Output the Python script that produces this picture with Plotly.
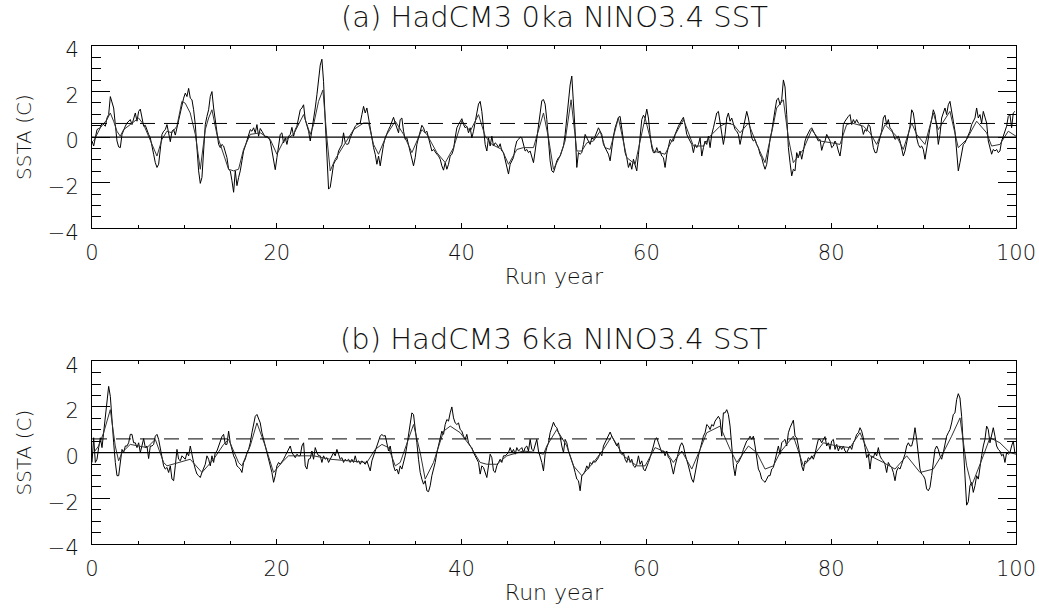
import numpy as np
import plotly.graph_objects as go

# ---------------- data ----------------
# raw NINO3.4 SSTA, sampled every ~0.18 year along the run (values in C)
SAMPLE_STEP_YR = 0.1803

sst_0ka_raw = [
    -0.17,-0.39,-0.03,0.33,0.38,0.41,0.62,0.55,0.48,0.84,
    0.99,1.78,1.55,1.28,0.55,-0.17,-0.43,-0.46,0.12,0.33,
    0.48,0.62,0.70,0.77,0.55,0.84,1.06,0.70,1.13,1.23,
    0.84,0.48,0.52,0.26,0.12,-0.03,-0.46,-0.75,-1.12,-1.33,
    -1.19,-0.61,0.12,0.26,0.33,0.55,0.12,-0.20,0.26,0.33,
    0.09,0.41,0.84,1.13,1.42,1.71,1.93,1.78,2.14,1.71,
    1.64,1.20,0.55,-0.61,-1.48,-2.03,-1.77,-0.61,0.55,0.91,
    1.20,1.78,2.00,1.28,0.77,0.12,-0.32,-0.46,-0.32,-0.39,
    -0.68,-0.90,-1.41,-1.48,-1.91,-2.42,-1.48,-2.13,-1.77,-1.48,
    -1.04,-0.61,-0.39,-0.17,0.12,0.33,0.26,0.41,0.19,0.55,
    0.04,0.38,0.26,0.12,0.00,0.04,-0.03,-0.17,-0.61,-0.90,
    -1.43,-0.90,-0.46,0.12,0.19,-0.25,-0.03,-0.32,0.04,0.12,
    0.43,0.04,0.33,0.48,0.84,1.20,1.28,1.42,0.77,0.55,
    0.26,
    -0.17,0.26,0.70,1.28,1.86,2.58,3.16,3.42,2.43,
    0.70,-1.04,-2.28,-2.20,-1.55,-1.19,-1.04,-0.97,-0.61,-0.46,
    -0.32,0.19,-0.25,-0.32,-0.29,-0.03,0.12,0.33,0.48,0.55,
    0.58,0.62,0.99,1.35,1.06,1.28,0.84,0.48,-0.03,-0.46,
    -0.75,-1.19,-0.83,-1.26,-0.68,-0.32,-0.03,0.19,0.33,0.48,
    0.70,0.87,0.62,0.41,0.19,0.77,0.84,0.26,-0.10,-0.03,
    -0.32,-0.61,-0.90,-1.26,-0.90,-0.32,-0.03,0.26,0.52,0.41,
    0.19,0.26,-0.03,-0.32,-0.61,-0.54,-0.68,-0.75,-0.83,-0.97,
    -1.26,-1.45,-1.12,-1.41,-1.19,-0.83,-0.75,-0.54,-0.03,0.41,
    0.55,0.70,0.81,0.55,0.41,0.48,0.19,0.41,-0.03,0.26,
    0.77,1.06,1.45,1.57,1.13,0.41,-0.32,-0.61,-0.03,-0.39,
    0.04,-0.39,-0.25,-0.32,-0.46,-0.29,-0.61,-0.68,-0.97,-1.26,
    -1.62,-1.19,-1.04,-0.90,-0.46,-0.17,-0.10,0.00,-0.03,-0.39,
    -0.61,-0.54,-0.68,-0.61,-0.90,-1.12,-0.61,-0.03,0.55,
    1.28,1.60,1.65,1.45,0.77,-0.17,-1.04,-1.48,-1.55,-1.33,-1.04,
    -0.90,-0.83,-0.61,-0.39,0.12,0.84,1.42,2.29,2.68,1.64,
    0.26,-1.33,-0.68,-0.75,-0.68,-0.32,0.12,-0.03,-0.17,-0.32,
    -0.03,-0.10,0.04,0.19,0.41,0.26,0.12,-0.32,-0.46,-0.61,
    -0.75,-1.04,-0.46,0.04,0.41,0.70,0.87,0.91,0.41,-0.03,
    -0.68,-0.90,-1.33,-1.12,-1.41,-0.97,-1.26,-1.48,-0.75,0.12,
    0.77,0.96,0.84,1.23,0.84,0.12,-0.46,-0.68,-0.68,-0.46,
    -0.68,-0.61,-0.83,-0.90,-1.33,-0.75,-0.46,-0.10,-0.17,-0.17,
    0.12,0.33,0.48,0.62,0.77,0.87,0.55,0.12,-0.03,-0.17,
    -0.32,-0.68,-0.32,-0.46,-0.32,-0.03,-0.83,-0.46,-0.17,-0.32,
    0.04,-0.46,0.12,0.41,0.70,1.06,1.13,0.70,0.12,-0.32,
    0.12,0.84,1.06,0.70,0.84,0.55,0.33,0.26,0.12,-0.32,
    0.04,0.41,0.77,1.13,0.84,0.41,-0.03,-0.17,-0.10,-0.32,
    -0.46,-0.75,-0.90,-1.19,-1.41,-1.19,-0.61,
    -0.10,0.26,0.84,
    1.20,1.64,1.71,1.42,1.64,2.51,2.20,0.99,-0.46,-1.12,
    -1.70,-1.41,-1.48,-0.68,-0.90,-0.61,-0.97,-0.61,-0.17,0.04,
    0.19,0.33,0.41,0.26,0.12,-0.03,-0.17,-0.10,-0.58,-0.32,
    -0.17,0.12,-0.03,-0.17,-0.46,-0.39,-0.17,-0.32,-0.61,-0.83,
    -0.32,0.55,0.70,0.84,0.91,0.99,0.55,0.77,0.62,0.77,
    0.62,0.55,0.48,0.12,0.33,0.26,0.55,0.48,0.04,-0.46,
    -0.68,-0.68,-0.32,-0.03,0.26,0.84,0.96,0.55,0.77,0.41,
    0.33,0.12,-0.10,-0.03,0.04,-0.17,-0.46,-0.83,-0.61,-0.25,
    0.12,0.48,1.20,1.06,0.55,-0.03,-0.32,-0.46,-0.39,-0.54,
    -0.97,-0.46,0.04,0.41,0.77,1.20,0.99,0.48,-0.32,0.12,
    0.84,1.06,1.28,0.99,1.42,1.57,1.20,0.70,0.26,-0.61,
    -1.48,-1.12,-0.61,-0.32,-0.25,-0.10,0.04,0.26,0.55,0.70,
    0.84,1.28,0.84,0.99,0.62,1.13,0.84,0.62,-0.17,-0.46,
    -0.75,-0.54,-0.61,-0.54,-0.68,-0.61,-0.17,0.04,0.26,0.48,
    0.91,0.99,0.41,1.06,1.13,
]

sst_6ka_raw = [
    -0.43,0.65,-0.43,-0.29,0.22,0.65,0.22,0.87,1.45,2.32,
    2.90,2.46,1.16,0.43,-0.43,-1.01,-1.01,-0.29,0.14,0.00,
    0.29,0.29,0.43,0.80,0.80,0.43,0.43,0.22,0.43,0.00,
    0.29,0.61,0.22,0.29,-0.26,0.29,0.29,0.36,0.72,0.80,
    0.58,0.14,-0.14,-0.58,-0.72,-0.65,-0.87,-0.58,-1.16,-1.23,
    -0.58,0.14,-0.29,-0.36,-0.14,-0.22,-0.29,0.00,-0.14,0.29,
    -0.14,-0.43,-0.72,-0.94,-1.01,-1.09,-0.87,-0.65,-0.51,-0.14,
    -0.29,-0.58,-0.14,-0.43,0.00,0.07,0.29,0.43,0.70,0.80,
    0.36,0.36,0.94,0.43,0.14,-0.14,-0.29,-0.58,-0.65,-0.72,
    -0.87,-0.43,-0.29,0.00,0.14,0.43,0.87,1.23,1.59,1.67,
    1.52,1.30,0.87,0.58,0.29,0.00,-0.29,-0.58,-0.87,-1.30,
    -1.01,-0.58,-0.43,-0.51,-0.41,-0.29,-0.14,0.00,0.14,0.29,
    0.00,-0.14,-0.22,-0.07,-0.14,-0.14,0.29,0.43,-0.58,-0.72,
    -0.29,
    -0.26,0.07,-0.29,0.22,0.00,-0.14,-0.14,-0.43,-0.14,
    -0.29,-0.22,-0.43,-0.29,-0.14,0.00,-0.14,0.14,-0.07,-0.29,
    -0.22,-0.43,-0.29,-0.36,-0.29,-0.43,-0.29,-0.43,-0.14,-0.43,
    -0.36,-0.51,-0.36,-0.43,-0.51,-0.36,-0.58,-0.80,-0.36,-0.14,
    0.07,0.29,0.43,0.72,0.80,0.72,0.75,0.43,0.07,0.29,
    -0.22,-0.58,-0.80,-0.72,-0.94,-0.58,-0.72,-0.43,-0.14,0.29,
    0.72,1.30,1.74,1.67,1.16,0.43,-0.29,-0.87,-1.16,-1.38,
    -1.23,-1.67,-1.71,-1.45,-1.01,-0.72,-0.43,0.00,0.29,0.58,
    0.94,0.80,1.23,1.45,1.38,1.74,2.00,1.52,1.30,1.23,
    1.30,1.01,0.94,0.72,0.58,0.80,0.43,0.29,0.22,0.00,
    -0.14,-0.29,-0.43,-0.94,-0.58,-0.65,-0.87,-1.09,-0.58,-0.07,
    -0.22,-0.80,-0.87,-0.58,-0.43,-0.29,-0.43,-0.14,-0.14,-0.07,
    0.00,0.22,0.00,0.14,-0.07,0.22,0.07,0.14,0.22,0.00,
    0.22,0.29,0.07,0.58,0.14,0.07,0.29,0.58,0.07,
    -0.14,-0.43,-0.80,-0.07,0.22,0.43,0.87,1.09,1.33,1.16,1.09,
    0.87,0.72,0.29,0.00,0.58,0.43,0.07,-0.14,-0.29,-0.58,
    -0.87,-1.16,-1.23,-1.67,-1.01,-0.94,-0.80,-0.58,-0.72,-0.43,
    -0.51,-0.36,-0.43,-0.29,-0.22,0.00,-0.14,0.29,0.43,0.58,
    0.72,0.90,0.72,0.58,0.43,0.29,0.43,0.00,-0.07,0.00,
    -0.29,-0.43,-0.14,-0.43,-0.29,-0.58,-0.65,-0.51,-0.14,-0.51,
    -0.36,-0.72,-0.80,-0.65,-0.43,-0.22,0.00,0.29,0.58,0.65,
    0.43,0.22,0.00,0.07,-0.14,0.07,-0.22,-0.29,-0.58,-0.94,
    -0.58,-0.29,0.00,0.29,0.43,0.29,-0.07,-0.29,-0.58,-0.87,
    -1.16,-1.30,-0.87,-0.43,-0.14,0.14,0.43,0.72,0.87,1.23,
    1.16,1.01,1.23,1.16,1.38,1.52,1.59,1.45,0.72,1.74,
    1.74,1.88,1.67,1.16,0.29,-0.58,-1.01,-0.51,-0.43,-0.29,
    -0.14,0.14,0.29,0.51,0.58,0.72,0.58,0.72,0.29,-0.14,
    -0.72,-0.87,-1.16,-1.23,-1.30,-1.16,-1.01,
    -1.01,-0.72,-0.65,
    -0.29,-0.07,0.29,-0.07,0.43,0.51,0.58,0.29,0.87,1.09,
    1.30,1.42,0.72,0.65,0.29,-0.14,-0.58,-0.80,-0.36,-0.43,
    -0.22,-0.29,-0.14,-0.29,-0.07,0.29,0.58,0.58,0.43,0.58,
    0.70,0.29,0.43,0.14,0.51,0.58,0.14,0.36,0.07,0.29,
    0.14,0.29,0.07,0.00,0.14,0.29,0.14,0.43,0.58,0.80,
    0.87,1.09,0.94,0.65,0.22,-0.22,-0.07,-0.72,-0.14,-0.22,
    0.00,-0.14,0.22,-0.14,-0.29,-0.36,-0.51,-0.87,-0.43,-0.58,
    -0.65,-0.87,-1.23,-0.80,-0.65,-0.72,-0.51,-0.29,-0.07,0.29,
    0.43,0.29,0.29,0.58,1.09,0.58,0.00,-0.72,-0.94,-1.01,
    -1.16,-1.59,-1.67,-1.52,-1.01,-0.43,0.14,0.29,0.14,-0.14,
    -0.29,0.00,0.43,0.72,0.87,1.01,1.30,1.67,1.74,2.32,
    2.58,2.39,1.59,0.14,-1.16,-2.30,-2.15,-1.45,-1.30,-1.74,
    -1.45,-1.01,-1.16,-0.58,-0.14,0.29,0.58,1.16,1.01,0.43,
    0.72,1.09,0.72,0.29,0.14,0.07,-0.14,-0.07,-0.43,0.00,
    -0.07,0.00,0.29,0.51,-0.03,
]

# smoothed series (year, value) read at its turning points
smooth_0ka_year = [0.18,0.90,1.62,1.98,2.34,2.70,3.06,3.42,4.14,5.04,5.59,6.31,7.03,7.57,8.11,8.65,9.19,9.73,
    10.09,10.63,11.18,11.72,12.26,12.62,12.98,13.52,14.06,14.78,15.32,15.86,16.40,17.12,18.21,19.29,20.01,
    20.73,21.81,22.53,22.90,23.62,23.98,24.52,24.99,25.42,25.78,26.32,27.23,28.31,29.39,29.93,30.47,31.01,
    31.91,32.82,33.72,34.62,35.70,36.24,37.32,38.23,39.13,40.03,40.93,41.83,42.55,43.27,44.36,45.08,45.98,
    46.70,47.78,48.86,49.40,49.94,50.66,51.20,51.85,52.47,53.01,53.55,54.27,54.99,55.53,56.07,56.97,57.88,
    58.78,59.86,60.76,62.02,62.74,64.01,65.09,66.17,66.89,67.97,68.69,69.42,70.14,71.04,71.94,72.84,73.74,
    74.10,74.82,75.36,75.90,76.99,77.89,78.79,80.05,80.95,81.67,82.22,83.48,84.20,84.92,85.82,87.08,87.80,
    88.71,89.25,90.15,91.05,91.59,92.85,93.75,94.66,95.74,96.82,97.36,98.26,99.16,100.0]
smooth_0ka_val = [-0.17,0.41,0.77,1.06,0.70,0.26,0.04,0.33,0.55,0.84,0.55,-0.10,-0.83,-0.10,0.26,0.19,0.48,1.57,
    1.49,1.06,0.12,-1.41,0.33,0.84,1.20,0.12,-0.54,-1.41,-1.48,-1.41,-0.54,0.12,0.19,-0.10,-0.75,
    -0.17,0.12,0.70,0.99,0.12,0.55,1.57,2.07,-0.03,-1.48,-0.97,-0.39,0.33,0.62,0.62,-0.32,-0.75,
    0.12,0.70,0.12,-0.68,0.33,0.12,-0.68,-1.12,-0.46,0.72,0.26,0.99,0.04,-0.32,-0.54,-1.19,-0.54,
    -0.46,-0.46,1.06,-0.03,-1.41,-0.83,-0.17,1.64,-0.61,-0.61,-0.25,-0.17,0.26,-0.46,-0.54,0.84,-0.90,
    -1.19,0.84,-0.61,-0.75,-0.17,0.77,-0.39,-0.39,0.04,0.48,0.62,0.55,0.19,0.62,-0.32,-1.12,0.55,
    1.28,1.64,-0.03,-1.12,-0.54,0.33,-0.17,-0.25,-0.32,0.55,0.62,0.48,0.19,-0.32,0.55,0.04,-0.54,
    0.62,0.12,-0.32,1.06,0.33,1.13,-0.46,-0.10,0.70,0.19,-0.39,-0.32,0.26,0.04]

smooth_6ka_year = [0.18,0.72,1.26,1.98,2.52,2.88,3.24,4.14,5.04,5.95,6.85,7.75,8.11,9.55,10.63,11.90,13.16,14.24,
    14.78,15.86,16.22,17.12,17.85,18.75,19.65,20.55,21.27,22.53,23.98,25.78,27.95,29.75,30.65,31.37,32.09,
    32.82,33.36,34.08,34.80,35.52,36.06,36.96,38.05,38.77,39.85,40.93,42.01,42.73,43.81,44.90,46.70,48.14,
    48.86,49.22,50.30,51.38,52.11,53.01,54.27,55.35,56.25,57.52,58.96,59.86,60.94,62.20,62.92,63.83,64.91,
    65.81,66.53,67.97,69.06,69.78,71.04,71.94,72.84,73.74,74.46,75.90,76.99,78.07,79.15,80.59,82.03,83.12,
    84.20,85.64,86.90,88.17,89.61,91.05,92.13,93.03,93.94,94.66,95.20,96.46,97.18,98.26,99.34,100.0]
smooth_6ka_val = [0.00,0.29,0.87,1.88,0.29,-0.36,0.00,0.36,0.29,0.22,0.58,-0.43,-0.58,-0.43,-0.29,-0.87,-0.29,0.36,
    0.58,-0.43,-0.58,0.29,1.30,0.29,-0.87,-0.43,-0.14,-0.14,-0.14,-0.29,-0.36,-0.43,0.14,0.36,0.22,
    -0.58,-0.43,0.43,1.23,0.00,-1.16,-0.43,0.94,1.16,0.87,0.29,-0.43,-0.51,-0.51,-0.14,0.07,0.00,
    -0.07,0.29,1.01,0.29,-0.58,-1.01,-0.43,0.14,0.72,-0.14,-0.58,-0.58,0.22,0.00,-0.43,0.07,-0.72,
    0.14,0.87,1.16,0.14,-0.43,0.29,0.00,-0.72,-0.58,0.00,0.72,-0.58,-0.14,0.43,0.29,0.22,0.87,
    -0.14,-0.43,-0.72,-0.14,-0.87,-0.72,0.00,0.72,1.52,-0.58,-1.45,-0.14,0.65,0.43,0.00,-0.07]

threshold_c = 0.6          # dashed reference level
zero_level = 0.0
run_span = [0, 100]
panel_titles = ["(a) HadCM3 0ka NINO3.4 SST", "(b) HadCM3 6ka NINO3.4 SST"]
y_tick_vals = [-4, -2, 0, 2, 4]
x_tick_vals = [0, 20, 40, 60, 80, 100]

# ---------------- figure ----------------
FONT = "DejaVu Sans ExtraLight, DejaVu Sans, sans-serif"
INK = "#111111"
W, H = 1039, 614
M_L, M_R, M_T, M_B = 92, 23, 46, 70

fig = go.Figure()
line_style = dict(color="black", width=1)

panels = [
    (sst_0ka_raw, smooth_0ka_year, smooth_0ka_val, "x", "y"),
    (sst_6ka_raw, smooth_6ka_year, smooth_6ka_val, "x2", "y2"),
]
for raw, sy, sv, xa, ya in panels:
    rx = np.arange(len(raw)) * SAMPLE_STEP_YR
    fig.add_trace(go.Scatter(x=rx, y=raw, mode="lines", line=line_style,
                             xaxis=xa, yaxis=ya, showlegend=False, hoverinfo="skip"))
    fig.add_trace(go.Scatter(x=sy, y=sv, mode="lines", line=dict(color="#333333", width=1),
                             xaxis=xa, yaxis=ya, showlegend=False, hoverinfo="skip"))
    fig.add_trace(go.Scatter(x=run_span, y=[zero_level, zero_level], mode="lines",
                             line=dict(color="black", width=1.2),
                             xaxis=xa, yaxis=ya, showlegend=False, hoverinfo="skip"))
    fig.add_trace(go.Scatter(x=run_span, y=[threshold_c, threshold_c], mode="lines",
                             line=dict(color="black", width=1, dash="15px,9px"),
                             xaxis=xa, yaxis=ya, showlegend=False, hoverinfo="skip"))

tick_font = dict(family=FONT, size=21, color=INK, weight=200)

def xaxis_cfg(anchor):
    return dict(range=run_span, anchor=anchor, showline=True, linecolor="black", linewidth=1,
                mirror="ticks", ticks="inside", ticklen=5, tickwidth=1, tickcolor="black",
                tickvals=x_tick_vals, tickfont=tick_font, ticklabelstandoff=6,
                minor=dict(dtick=5, ticklen=3, ticks="inside", tickcolor="black", tickwidth=1),
                showgrid=False, zeroline=False, automargin=False,
                title=dict(text="Run year", font=dict(family=FONT, size=22, color=INK, weight=200),
                           standoff=4))

def yaxis_cfg(anchor, domain):
    return dict(range=[-4, 4], domain=domain, anchor=anchor, showline=True, linecolor="black",
                linewidth=1, mirror="ticks", ticks="inside", ticklen=18, tickwidth=1,
                tickcolor="black", tickvals=y_tick_vals, tickfont=tick_font, ticklabelstandoff=8,
                ticklabelshift=4,
                minor=dict(dtick=0.5, ticklen=9, ticks="inside", tickcolor="black", tickwidth=1),
                showgrid=False, zeroline=False, automargin=False,
                title=dict(text="SSTA (C)", font=dict(family=FONT, size=20, color=INK, weight=200),
                           standoff=10))

plot_h = H - M_T - M_B
title_y_px = [17, 339]   # vertical centres of the panel titles, pixels from top
fig.update_layout(
    width=W, height=H,
    margin=dict(l=M_L, r=M_R, t=M_T, b=M_B, autoexpand=False),
    paper_bgcolor="white", plot_bgcolor="white",
    xaxis=xaxis_cfg("y"), yaxis=yaxis_cfg("x", [0.634, 1.0]),
    xaxis2=xaxis_cfg("y2"), yaxis2=yaxis_cfg("x2", [0.0, 0.367]),
    annotations=[
        dict(text=t, x=0.5, xref="paper", y=1 - (py - M_T) / plot_h, yref="paper",
             yanchor="middle", showarrow=False,
             font=dict(family=FONT, size=29, color=INK, weight=200))
        for t, py in zip(panel_titles, title_y_px)
    ],
)

fig.write_html("out.html", config={"displayModeBar": False},
               post_script="document.body.style.margin='0';document.body.style.overflow='hidden';")
